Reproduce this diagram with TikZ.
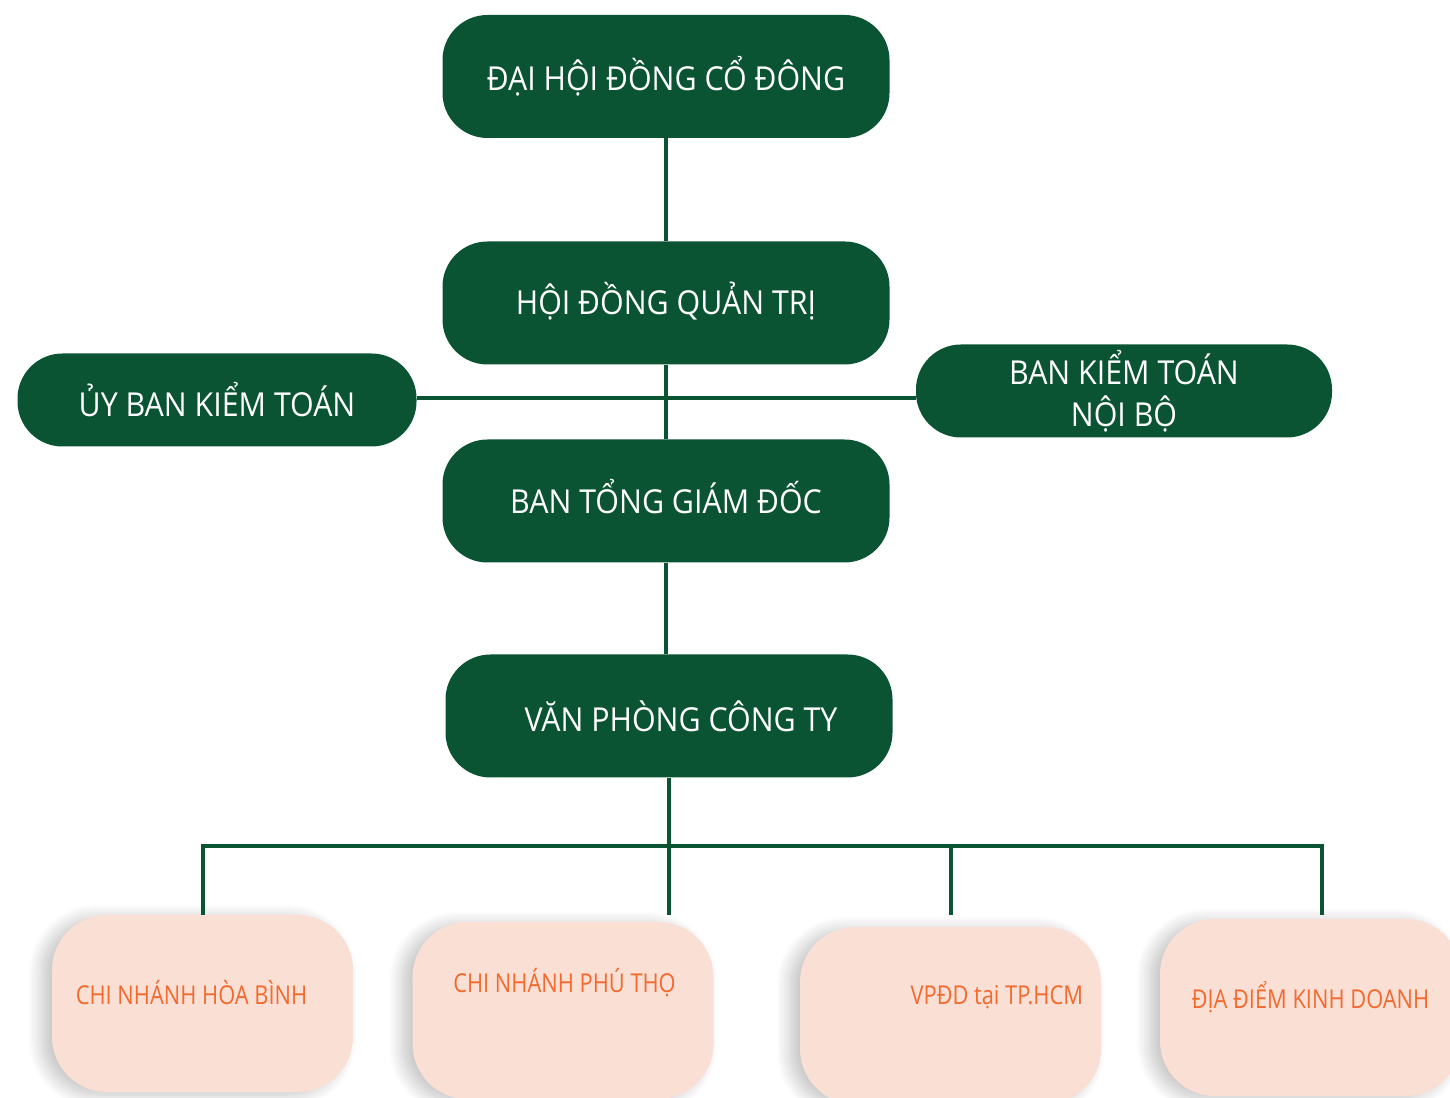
\documentclass[tikz,border=0pt]{standalone}
\usepackage{fontspec}
\setmainfont{Open Sans}
\newfontfamily\narrowfont[FakeStretch=0.84]{Open Sans}
\newfontfamily\boxfont[FakeStretch=0.92]{Open Sans}
\usepackage{tikz}
\usetikzlibrary{positioning, shadows.blur}
\definecolor{boardgreen}{HTML}{0B5433}
\definecolor{branchpink}{HTML}{FADFD5}
\definecolor{branchorange}{HTML}{F26A2E}

\begin{document}
\begin{tikzpicture}[x=1pt, y=1pt, on grid,
    organ/.style={rectangle, rounded corners=45pt, fill=boardgreen, text=white,
      minimum width=447pt, minimum height=123pt, align=center,
      font=\boxfont\fontsize{33}{42}\selectfont},
    branch/.style={rectangle, rounded corners=55pt, fill=branchpink,
      minimum width=301pt, minimum height=177pt,
      blur shadow={shadow xshift=-10pt, shadow yshift=-3pt, shadow opacity=24,
        shadow blur radius=14pt, shadow blur steps=14}},
    branchtext/.style={inner sep=0pt, text=branchorange, font=\narrowfont\fontsize{26}{30}\selectfont},
    link/.style={draw=boardgreen, line width=4pt}]
  \useasboundingbox (0,0) rectangle (1450,1097);
  \clip (0,0) rectangle (1450,1097);

  % Main line
  \node[organ] (dhdcd) at (666,1020.5) {ĐẠI HỘI ĐỒNG CỔ ĐÔNG};
  \node[organ] (hdqt) [below=226.5pt of dhdcd] {\raisebox{10pt}{HỘI ĐỒNG QUẢN TRỊ}};
  \node[organ] (btgd) [below=198pt of hdqt] {\raisebox{10pt}{BAN TỔNG GIÁM ĐỐC}};
  \node[organ] (vpct) [below=215pt of btgd, xshift=3pt] {\hspace*{24pt}VĂN PHÒNG CÔNG TY};

  % Audit boards
  \node[organ, minimum width=399pt, minimum height=93pt] (uyban) at (217,697) {ỦY BAN KIỂM TOÁN};
  \node[organ, minimum width=416pt, minimum height=93pt] (bktnb) at (1124,706) {BAN KIỂM TOÁN\\NỘI BỘ};

  % Branches
  \node[branch] (hoabinh) at (202.5,93.5) {};
  \node[branch] (phutho) at (563,86.5) {};
  \node[branch] (vpdd) at (950.5,81.5) {};
  \node[branch] (diadiem) at (1310.5,89.5) {};
  \node[branchtext] (hoabinhtxt) at ([shift={(-11,10.5)}]hoabinh.center) {CHI NHÁNH HÒA BÌNH};
  \node[branchtext] (phuthotxt) at ([shift={(1.5,27.5)}]phutho.center) {CHI NHÁNH PHÚ THỌ};
  \node[branchtext, anchor=east] (vpddtxt) at ([shift={(-18,18.5)}]vpdd.east) {VPĐD tại TP.HCM};
  \node[branchtext] (diadiemtxt) at ([shift={(0,10.5)}]diadiem.center) {ĐỊA ĐIỂM KINH DOANH};

  % Connectors
  \coordinate (audit) at (0,699);
  \coordinate (bus) at (0,251);
  \coordinate (drops) at (0,182);
  \coordinate (ddtop) at ([xshift=11.5pt]diadiem.north);
  \path[link]
    (dhdcd) -- (hdqt)
    (hdqt) -- (btgd)
    (btgd.south) -- (btgd.south |- vpct.north)
    (uyban.east |- audit) -- (bktnb.west |- audit)
    (vpct.south) -- (vpct.south |- drops)
    (hoabinh.north |- drops) -- (hoabinh.north |- bus) -- (ddtop |- bus) -- (ddtop |- drops)
    (vpdd.north |- bus) -- (vpdd.north |- drops);
\end{tikzpicture}
\end{document}
